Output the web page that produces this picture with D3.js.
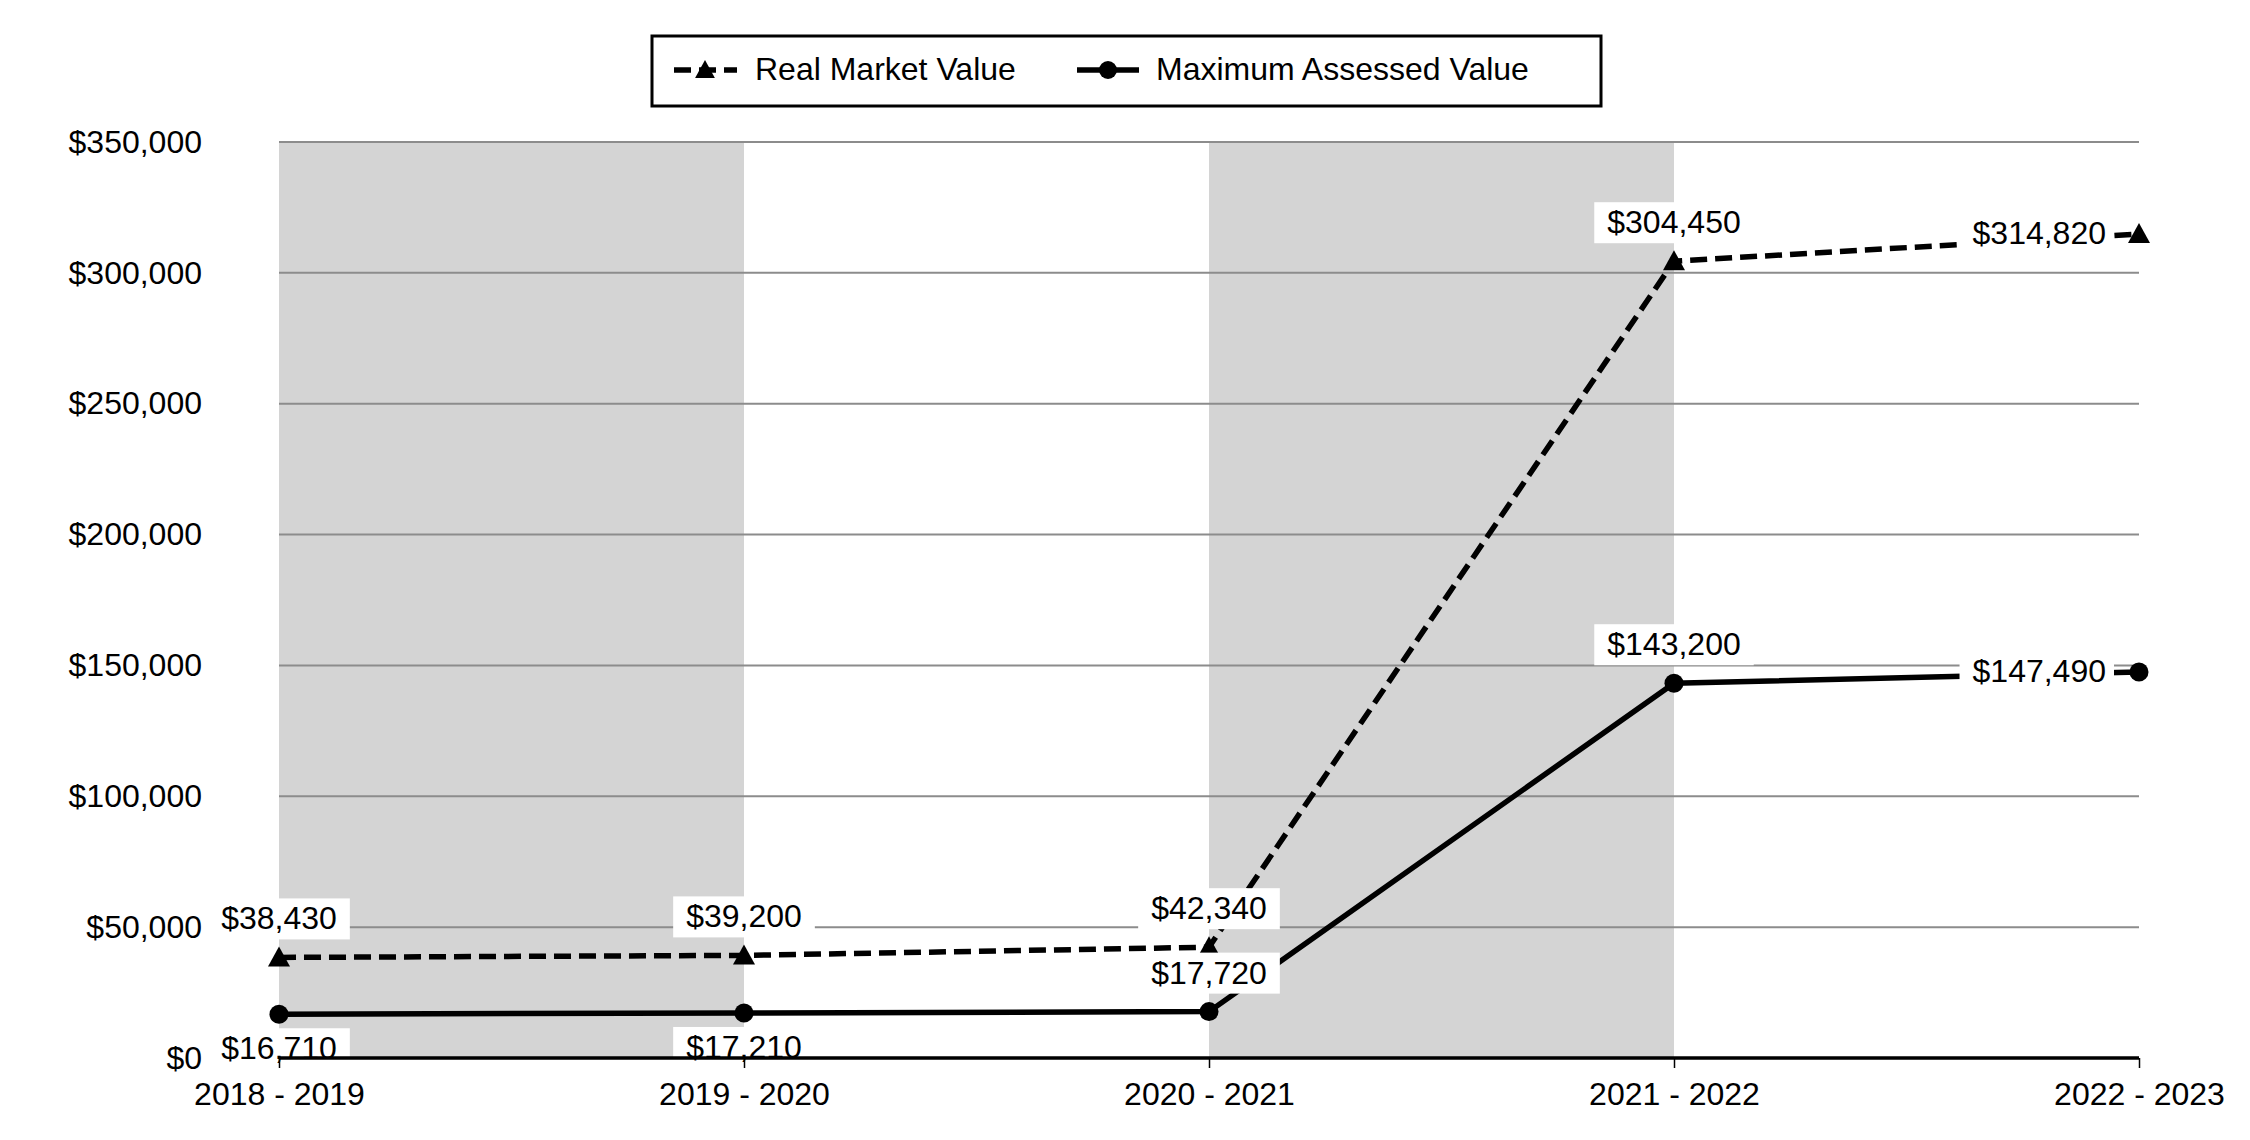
<!DOCTYPE html>
<html>
<head>
<meta charset="utf-8">
<script src="https://cdn.jsdelivr.net/npm/d3@7"></script>
<style>
  html, body { margin: 0; padding: 0; background: #fff; }
  svg { display: block; font-family: Arial, "Liberation Sans", sans-serif; }
  .tick text { font-size: 32px; fill: #000; }
  .lbl { font-size: 32px; fill: #000; }
</style>
</head>
<body>
<div id="chart"></div>
<script>
const categories = ['2018 - 2019', '2019 - 2020', '2020 - 2021', '2021 - 2022', '2022 - 2023'];
const realMarket = [38430, 39200, 42340, 304450, 314820];
const maxAssessed = [16710, 17210, 17720, 143200, 147490];
const yTicks = [0, 50000, 100000, 150000, 200000, 250000, 300000, 350000];
const seriesNames = ['Real Market Value', 'Maximum Assessed Value'];

// where each data label sits relative to its point
const rmvPlace = ['above', 'above', 'above', 'above', 'left'];
const mavPlace = ['below', 'below', 'above', 'above', 'left'];

const W = 2250, H = 1140;
const M = { top: 142, right: 111, bottom: 82, left: 279 };
const innerW = W - M.left - M.right;
const innerH = H - M.top - M.bottom;

const svg = d3.select('#chart').append('svg')
  .attr('width', W).attr('height', H).attr('viewBox', `0 0 ${W} ${H}`);
const g = svg.append('g').attr('transform', `translate(${M.left},${M.top})`);

const x = d3.scalePoint().domain(categories).range([0, innerW]);
const y = d3.scaleLinear().domain([0, 350000]).range([innerH, 0]);
const money = (v) => '$' + d3.format(',')(v);

// Alternating shaded bands between categories.
g.append('g').selectAll('rect')
  .data(categories.slice(0, -1).filter((c, i) => i % 2 === 0))
  .join('rect')
  .attr('x', (c) => x(c))
  .attr('width', x.step())
  .attr('y', 0).attr('height', innerH)
  .attr('fill', '#d4d4d4');

// Gridlines.
g.append('g').selectAll('line')
  .data(yTicks.filter((v) => v > 0))
  .join('line')
  .attr('x1', 0).attr('x2', innerW)
  .attr('y1', (v) => y(v)).attr('y2', (v) => y(v))
  .attr('stroke', '#8c8c8c').attr('stroke-width', 2);

// Y axis labels.
const yAxis = g.append('g')
  .call(d3.axisLeft(y).tickValues(yTicks).tickFormat(money).tickSize(0).tickPadding(77));
yAxis.select('.domain').remove();

function triangle(s) {
  return `M0,${-s * 0.55}L${s * 0.55},${s * 0.45}L${-s * 0.55},${s * 0.45}Z`;
}

const lineGen = (vals) => d3.line().x((d, i) => x(categories[i])).y((d) => y(d))(vals);

// Series lines.
g.append('path').attr('d', lineGen(realMarket))
  .attr('fill', 'none').attr('stroke', '#000').attr('stroke-width', 5.5)
  .attr('stroke-dasharray', '17,8');
g.append('path').attr('d', lineGen(maxAssessed))
  .attr('fill', 'none').attr('stroke', '#000').attr('stroke-width', 5.5);

// Markers.
g.append('g').selectAll('path')
  .data(realMarket)
  .join('path')
  .attr('transform', (d, i) => `translate(${x(categories[i])},${y(d)})`)
  .attr('d', triangle(20))
  .attr('fill', '#000');
g.append('g').selectAll('circle')
  .data(maxAssessed)
  .join('circle')
  .attr('cx', (d, i) => x(categories[i])).attr('cy', (d) => y(d))
  .attr('r', 9.5).attr('fill', '#000');

// Data labels with white boxes.
function labels(vals, place) {
  const lg = g.append('g');
  vals.forEach((v, i) => {
    const px = x(categories[i]), py = y(v);
    const p = place[i];
    const grp = lg.append('g');
    const rect = grp.append('rect').attr('fill', '#fff');
    const t = grp.append('text').attr('class', 'lbl').text(money(v));
    let base;
    if (p === 'left') {
      base = py + 10;
      t.attr('x', px - 33).attr('y', base).attr('text-anchor', 'end');
    } else {
      base = p === 'above' ? py - 28 : py + 45;
      t.attr('x', px).attr('y', base).attr('text-anchor', 'middle');
    }
    const bb = t.node().getBBox();
    const padL = 13, padR = p === 'left' ? 8 : 13;
    rect.attr('x', bb.x - padL).attr('width', bb.width + padL + padR)
      .attr('y', base - 31).attr('height', 41);
  });
}
labels(realMarket, rmvPlace);
labels(maxAssessed, mavPlace);

// X axis on top of everything.
const xAxis = g.append('g')
  .attr('transform', `translate(0,${innerH})`)
  .call(d3.axisBottom(x).tickSize(10).tickPadding(14));
xAxis.select('.domain').attr('stroke', '#000').attr('stroke-width', 3.5)
  .attr('d', `M0,0H${innerW}`);
xAxis.selectAll('.tick line').attr('stroke', '#000').attr('stroke-width', 1.5);

// Legend.
const leg = svg.append('g');
leg.append('rect')
  .attr('x', 652).attr('y', 36).attr('width', 949).attr('height', 70)
  .attr('fill', '#fff').attr('stroke', '#000').attr('stroke-width', 3);
const legY = 70;
leg.append('line')
  .attr('x1', 674).attr('x2', 737).attr('y1', legY).attr('y2', legY)
  .attr('stroke', '#000').attr('stroke-width', 5.5).attr('stroke-dasharray', '17,8');
leg.append('path').attr('transform', `translate(705,${legY})`).attr('d', triangle(18)).attr('fill', '#000');
leg.append('text').attr('class', 'lbl').attr('x', 755).attr('y', 80).text(seriesNames[0]);
leg.append('line')
  .attr('x1', 1077).attr('x2', 1139).attr('y1', legY).attr('y2', legY)
  .attr('stroke', '#000').attr('stroke-width', 5.5);
leg.append('circle').attr('cx', 1108).attr('cy', legY).attr('r', 9).attr('fill', '#000');
leg.append('text').attr('class', 'lbl').attr('x', 1156).attr('y', 80).text(seriesNames[1]);
</script>
</body>
</html>
